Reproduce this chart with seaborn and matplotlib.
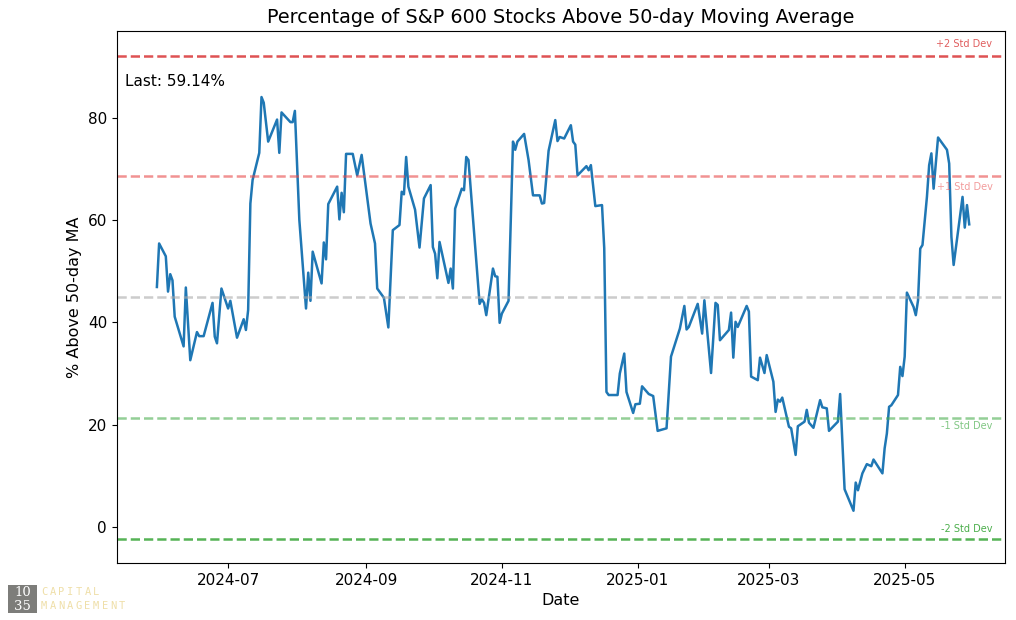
import matplotlib
matplotlib.use("Agg")
import matplotlib.pyplot as plt
import matplotlib.dates as mdates
from matplotlib.patches import Rectangle
import seaborn as sns
import pandas as pd
import numpy as np

# ---- data ----
dates = [
    "2024-05-30", "2024-05-31", "2024-06-03", "2024-06-04", "2024-06-05", "2024-06-06", "2024-06-07",
    "2024-06-11", "2024-06-12", "2024-06-14", "2024-06-17", "2024-06-18", "2024-06-20", "2024-06-24",
    "2024-06-25", "2024-06-26", "2024-06-28", "2024-07-01", "2024-07-02", "2024-07-05", "2024-07-08",
    "2024-07-09", "2024-07-10", "2024-07-11", "2024-07-12", "2024-07-15", "2024-07-16", "2024-07-17",
    "2024-07-19", "2024-07-23", "2024-07-24", "2024-07-25", "2024-07-29", "2024-07-30", "2024-07-31",
    "2024-08-02", "2024-08-05", "2024-08-06", "2024-08-07", "2024-08-08", "2024-08-12", "2024-08-13",
    "2024-08-14", "2024-08-15", "2024-08-19", "2024-08-20", "2024-08-21", "2024-08-22", "2024-08-23",
    "2024-08-26", "2024-08-28", "2024-08-30", "2024-09-03", "2024-09-05", "2024-09-06", "2024-09-09",
    "2024-09-11", "2024-09-13", "2024-09-16", "2024-09-17", "2024-09-18", "2024-09-19", "2024-09-20",
    "2024-09-23", "2024-09-25", "2024-09-27", "2024-09-30", "2024-10-01", "2024-10-02", "2024-10-03",
    "2024-10-04", "2024-10-08", "2024-10-09", "2024-10-10", "2024-10-11", "2024-10-14", "2024-10-15",
    "2024-10-16", "2024-10-17", "2024-10-22", "2024-10-23", "2024-10-24", "2024-10-25", "2024-10-28",
    "2024-10-29", "2024-10-30", "2024-10-31", "2024-11-01", "2024-11-04", "2024-11-06", "2024-11-07",
    "2024-11-08", "2024-11-11", "2024-11-13", "2024-11-15", "2024-11-18", "2024-11-19", "2024-11-20",
    "2024-11-22", "2024-11-25", "2024-11-26", "2024-11-27", "2024-11-29", "2024-12-02", "2024-12-03",
    "2024-12-04", "2024-12-05", "2024-12-09", "2024-12-10", "2024-12-11", "2024-12-13", "2024-12-16",
    "2024-12-17", "2024-12-18", "2024-12-19", "2024-12-23", "2024-12-24", "2024-12-26", "2024-12-27",
    "2024-12-30", "2024-12-31", "2025-01-02", "2025-01-03", "2025-01-06", "2025-01-08", "2025-01-10",
    "2025-01-14", "2025-01-16", "2025-01-20", "2025-01-22", "2025-01-23", "2025-01-24", "2025-01-28",
    "2025-01-30", "2025-01-31", "2025-02-03", "2025-02-05", "2025-02-06", "2025-02-07", "2025-02-11",
    "2025-02-12", "2025-02-13", "2025-02-14", "2025-02-15", "2025-02-19", "2025-02-20", "2025-02-21",
    "2025-02-24", "2025-02-25", "2025-02-27", "2025-02-28", "2025-03-03", "2025-03-04", "2025-03-05",
    "2025-03-06", "2025-03-07", "2025-03-10", "2025-03-11", "2025-03-13", "2025-03-14", "2025-03-17",
    "2025-03-18", "2025-03-19", "2025-03-21", "2025-03-24", "2025-03-25", "2025-03-27", "2025-03-28",
    "2025-04-01", "2025-04-02", "2025-04-04", "2025-04-08", "2025-04-09", "2025-04-10", "2025-04-12",
    "2025-04-14", "2025-04-16", "2025-04-17", "2025-04-21", "2025-04-22", "2025-04-23", "2025-04-24",
    "2025-04-25", "2025-04-28", "2025-04-29", "2025-04-30", "2025-05-01", "2025-05-02", "2025-05-05",
    "2025-05-06", "2025-05-07", "2025-05-08", "2025-05-09", "2025-05-11", "2025-05-12", "2025-05-13",
    "2025-05-14", "2025-05-16", "2025-05-20", "2025-05-21", "2025-05-22", "2025-05-23", "2025-05-27",
    "2025-05-28", "2025-05-29", "2025-05-30",
]
pct_above = [
    46.9, 55.4, 52.9, 46.0, 49.4, 48.2, 41.1,
    35.3, 46.8, 32.6, 38.1, 37.3, 37.3, 43.8,
    37.2, 35.9, 46.6, 42.7, 44.2, 37.0, 40.6,
    38.5, 42.4, 63.2, 67.8, 73.1, 84.0, 82.9,
    75.3, 79.6, 73.1, 81.0, 79.1, 79.1, 81.3,
    60.0, 42.7, 49.7, 44.2, 53.8, 47.6, 55.6,
    52.3, 63.1, 66.5, 60.1, 65.3, 61.5, 72.9,
    72.9, 68.7, 72.7, 59.3, 55.4, 46.6, 44.8,
    39.0, 58.0, 59.0, 65.5, 65.0, 72.3, 66.5,
    62.0, 54.6, 64.2, 66.8, 54.7, 53.4, 48.6,
    55.7, 47.7, 50.5, 46.6, 62.2, 66.1, 65.8,
    72.3, 71.7, 43.6, 44.5, 43.8, 41.4, 50.5,
    49.0, 48.9, 39.9, 41.7, 44.2, 75.3, 73.7,
    75.3, 76.8, 71.7, 64.8, 64.8, 63.2, 63.3,
    73.5, 79.5, 75.4, 76.2, 75.9, 78.5, 75.3,
    74.7, 68.7, 70.5, 69.7, 70.7, 62.7, 62.9,
    54.5, 26.4, 25.8, 25.8, 30.0, 33.9, 26.4,
    22.3, 24.0, 24.1, 27.5, 26.0, 25.6, 18.8,
    19.3, 33.3, 38.8, 43.2, 38.6, 39.1, 43.6,
    37.8, 44.3, 30.1, 43.8, 43.4, 36.5, 38.5,
    41.9, 33.1, 40.1, 39.1, 43.2, 42.1, 29.4,
    28.7, 33.1, 30.1, 33.6, 28.4, 22.5, 24.9,
    24.5, 25.3, 19.6, 19.3, 14.1, 19.7, 20.6,
    22.9, 20.4, 19.4, 24.8, 23.4, 23.2, 18.8,
    20.6, 26.0, 7.4, 3.2, 8.7, 7.2, 10.5,
    12.3, 11.9, 13.2, 10.5, 15.4, 18.3, 23.5,
    23.8, 25.8, 31.3, 29.5, 33.3, 45.8, 43.0,
    41.4, 44.3, 54.4, 55.1, 64.5, 70.7, 73.0,
    66.1, 76.1, 73.7, 71.0, 56.7, 51.2, 64.5,
    58.5, 62.9, 59.14,
]

band_levels = [92.0, 68.5, 44.9, 21.3, -2.3]
band_labels = ["+2 Std Dev", "+1 Std Dev", None, "-1 Std Dev", "-2 Std Dev"]
band_colors = ["#d62728", "#e84a4a", "#aaaaaa", "#4caf50", "#2ca02c"]
band_alpha = [0.8, 0.6, 0.6, 0.6, 0.8]

title = "Percentage of S&P 600 Stocks Above 50-day Moving Average"
last_label = "Last: 59.14%"
logo_num = ["10", "35"]
logo_words = ["CAPITAL", "MANAGEMENT"]

df = pd.DataFrame({"Date": pd.to_datetime(dates), "pct": pct_above})

fig = plt.figure(figsize=(10.16, 6.20), dpi=100)
ax = fig.add_axes([0.115, 0.092, 0.874, 0.858])

sns.lineplot(data=df, x="Date", y="pct", ax=ax, color="#1f77b4", linewidth=1.8)

for lvl, lab, col, al in zip(band_levels, band_labels, band_colors, band_alpha):
    ax.axhline(lvl, color=col, linestyle="--", linewidth=1.8, alpha=al)

# labels at right
ax.text(0.986, band_levels[0] + 1.3, band_labels[0], transform=ax.get_yaxis_transform(),
        ha="right", va="bottom", fontsize=7, color="#d62728", alpha=0.75)
ax.text(0.986, band_levels[1] - 1.0, band_labels[1], transform=ax.get_yaxis_transform(),
        ha="right", va="top", fontsize=7, color="#e84a4a", alpha=0.55)
ax.text(0.986, band_levels[3] - 0.5, band_labels[3], transform=ax.get_yaxis_transform(),
        ha="right", va="top", fontsize=7, color="#4caf50", alpha=0.7)
ax.text(0.986, band_levels[4] + 1.0, band_labels[4], transform=ax.get_yaxis_transform(),
        ha="right", va="bottom", fontsize=7, color="#2ca02c", alpha=0.85)

ax.text(0.009, 0.905, last_label, transform=ax.transAxes, fontsize=11, ha="left", va="center")

ax.set_ylim(-7.0, 96.9)
ax.set_xlim(pd.Timestamp("2024-05-12"), pd.Timestamp("2025-06-15"))
ax.set_yticks([0, 20, 40, 60, 80])
ax.xaxis.set_major_locator(mdates.MonthLocator(bymonth=[1, 3, 5, 7, 9, 11]))
ax.xaxis.set_major_formatter(mdates.DateFormatter("%Y-%m"))
ax.tick_params(labelsize=11)
ax.set_title(title, fontsize=13.8, pad=6)
ax.set_xlabel("Date", fontsize=11.5)
ax.set_ylabel("% Above 50-day MA", fontsize=11.5)

# logo
fig.patches.append(Rectangle((8 / 1016, 1 - 613 / 620), 29 / 1016, 28 / 620,
                             transform=fig.transFigure, facecolor="#7d7d7a", edgecolor="none"))
for i, s in enumerate(logo_num):
    fig.text(22.5 / 1016, 1 - (592 + 14 * i) / 620, s, color="white", fontsize=9.5,
             family="DejaVu Serif", ha="center", va="center")
for i, word in enumerate(logo_words):
    for j, ch in enumerate(word):
        fig.text((44 + 8.7 * j) / 1016, 1 - (592 + 14 * i) / 620, ch, color="#efdfa8",
                 fontsize=7.5, family="DejaVu Sans Mono", ha="center", va="center")

fig.savefig("out.png", dpi=100)
